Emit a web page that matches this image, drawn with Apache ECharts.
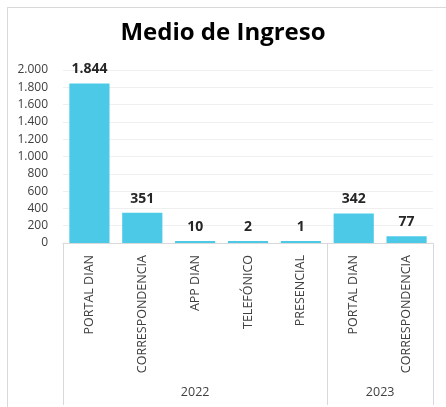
<!DOCTYPE html>
<html>
<head>
<meta charset="utf-8">
<script src="https://cdn.jsdelivr.net/npm/echarts@6/dist/echarts.min.js"></script>
<style>
  html, body { margin: 0; padding: 0; background: #fff; }
  #frame { position: absolute; left: 7px; top: 7px; width: 439px; height: 400px;
           border-left: 1px solid #d9d9d9; border-top: 1px solid #d9d9d9; }
  #chart { position: absolute; left: 0; top: 0; width: 446px; height: 407px; }
</style>
</head>
<body>
<div id="frame"></div>
<div id="chart"></div>
<script>
// datos
var categorias = ['PORTAL DIAN', 'CORRESPONDENCIA', 'APP DIAN', 'TELEFÓNICO', 'PRESENCIAL', 'PORTAL DIAN', 'CORRESPONDENCIA'];
var valores = [1844, 351, 10, 2, 1, 342, 77];
var anios = ['2022', '2023'];
var aniosTamano = [5, 2]; // numero de categorias por año

// separadores y centros de los grupos de año
var limites = [0];
var centros = [];
aniosTamano.forEach(function (n) {
    var ini = limites[limites.length - 1];
    limites.push(ini + n);
    centros.push(ini + n / 2);
});

function fmtMiles(v) {
    return String(v).replace(/\B(?=(\d{3})+(?!\d))/g, '.');
}

var chart = echarts.init(document.getElementById('chart'));
var option = {
    animation: false,
    title: {
        text: 'Medio de Ingreso',
        left: 'center',
        top: 16,
        textStyle: { fontFamily: 'Open Sans', fontSize: 24, fontWeight: 'bold', color: '#000' }
    },
    grid: { left: 63, right: 13, top: 70, bottom: 164 },
    xAxis: [{
        type: 'category',
        data: categorias,
        axisLine: { lineStyle: { color: '#d9d9d9' } },
        axisTick: { show: false },
        axisLabel: {
            rotate: 90,
            interval: 0,
            margin: 12,
            fontFamily: 'Open Sans',
            fontSize: 12.5,
            color: '#404040'
        }
    }, {
        type: 'value',
        position: 'bottom',
        min: 0,
        max: categorias.length,
        splitLine: { show: false },
        axisLine: { show: false },
        axisTick: {
            show: true,
            customValues: limites,
            length: 162,
            lineStyle: { color: '#d9d9d9' }
        },
        axisLabel: {
            customValues: centros,
            margin: 143,
            fontFamily: 'Open Sans',
            fontSize: 12.5,
            color: '#404040',
            formatter: function (v) {
                return anios[centros.indexOf(v)];
            }
        }
    }],
    yAxis: {
        type: 'value',
        min: 0,
        max: 2000,
        interval: 200,
        axisLine: { show: false },
        axisTick: { show: false },
        splitLine: { lineStyle: { color: '#efefef' } },
        axisLabel: {
            margin: 15,
            fontFamily: 'Open Sans',
            fontSize: 12,
            color: '#404040',
            formatter: fmtMiles
        }
    },
    series: [{
        type: 'bar',
        data: valores,
        barCategoryGap: '24%',
        barMinHeight: 2,
        itemStyle: { color: '#4cc9e6' },
        label: {
            show: true,
            position: 'top',
            distance: 7,
            fontFamily: 'Open Sans',
            fontSize: 14,
            fontWeight: 'bold',
            color: '#262626',
            formatter: function (p) { return fmtMiles(p.value); }
        }
    }]
};
chart.setOption(option);
</script>
</body>
</html>
